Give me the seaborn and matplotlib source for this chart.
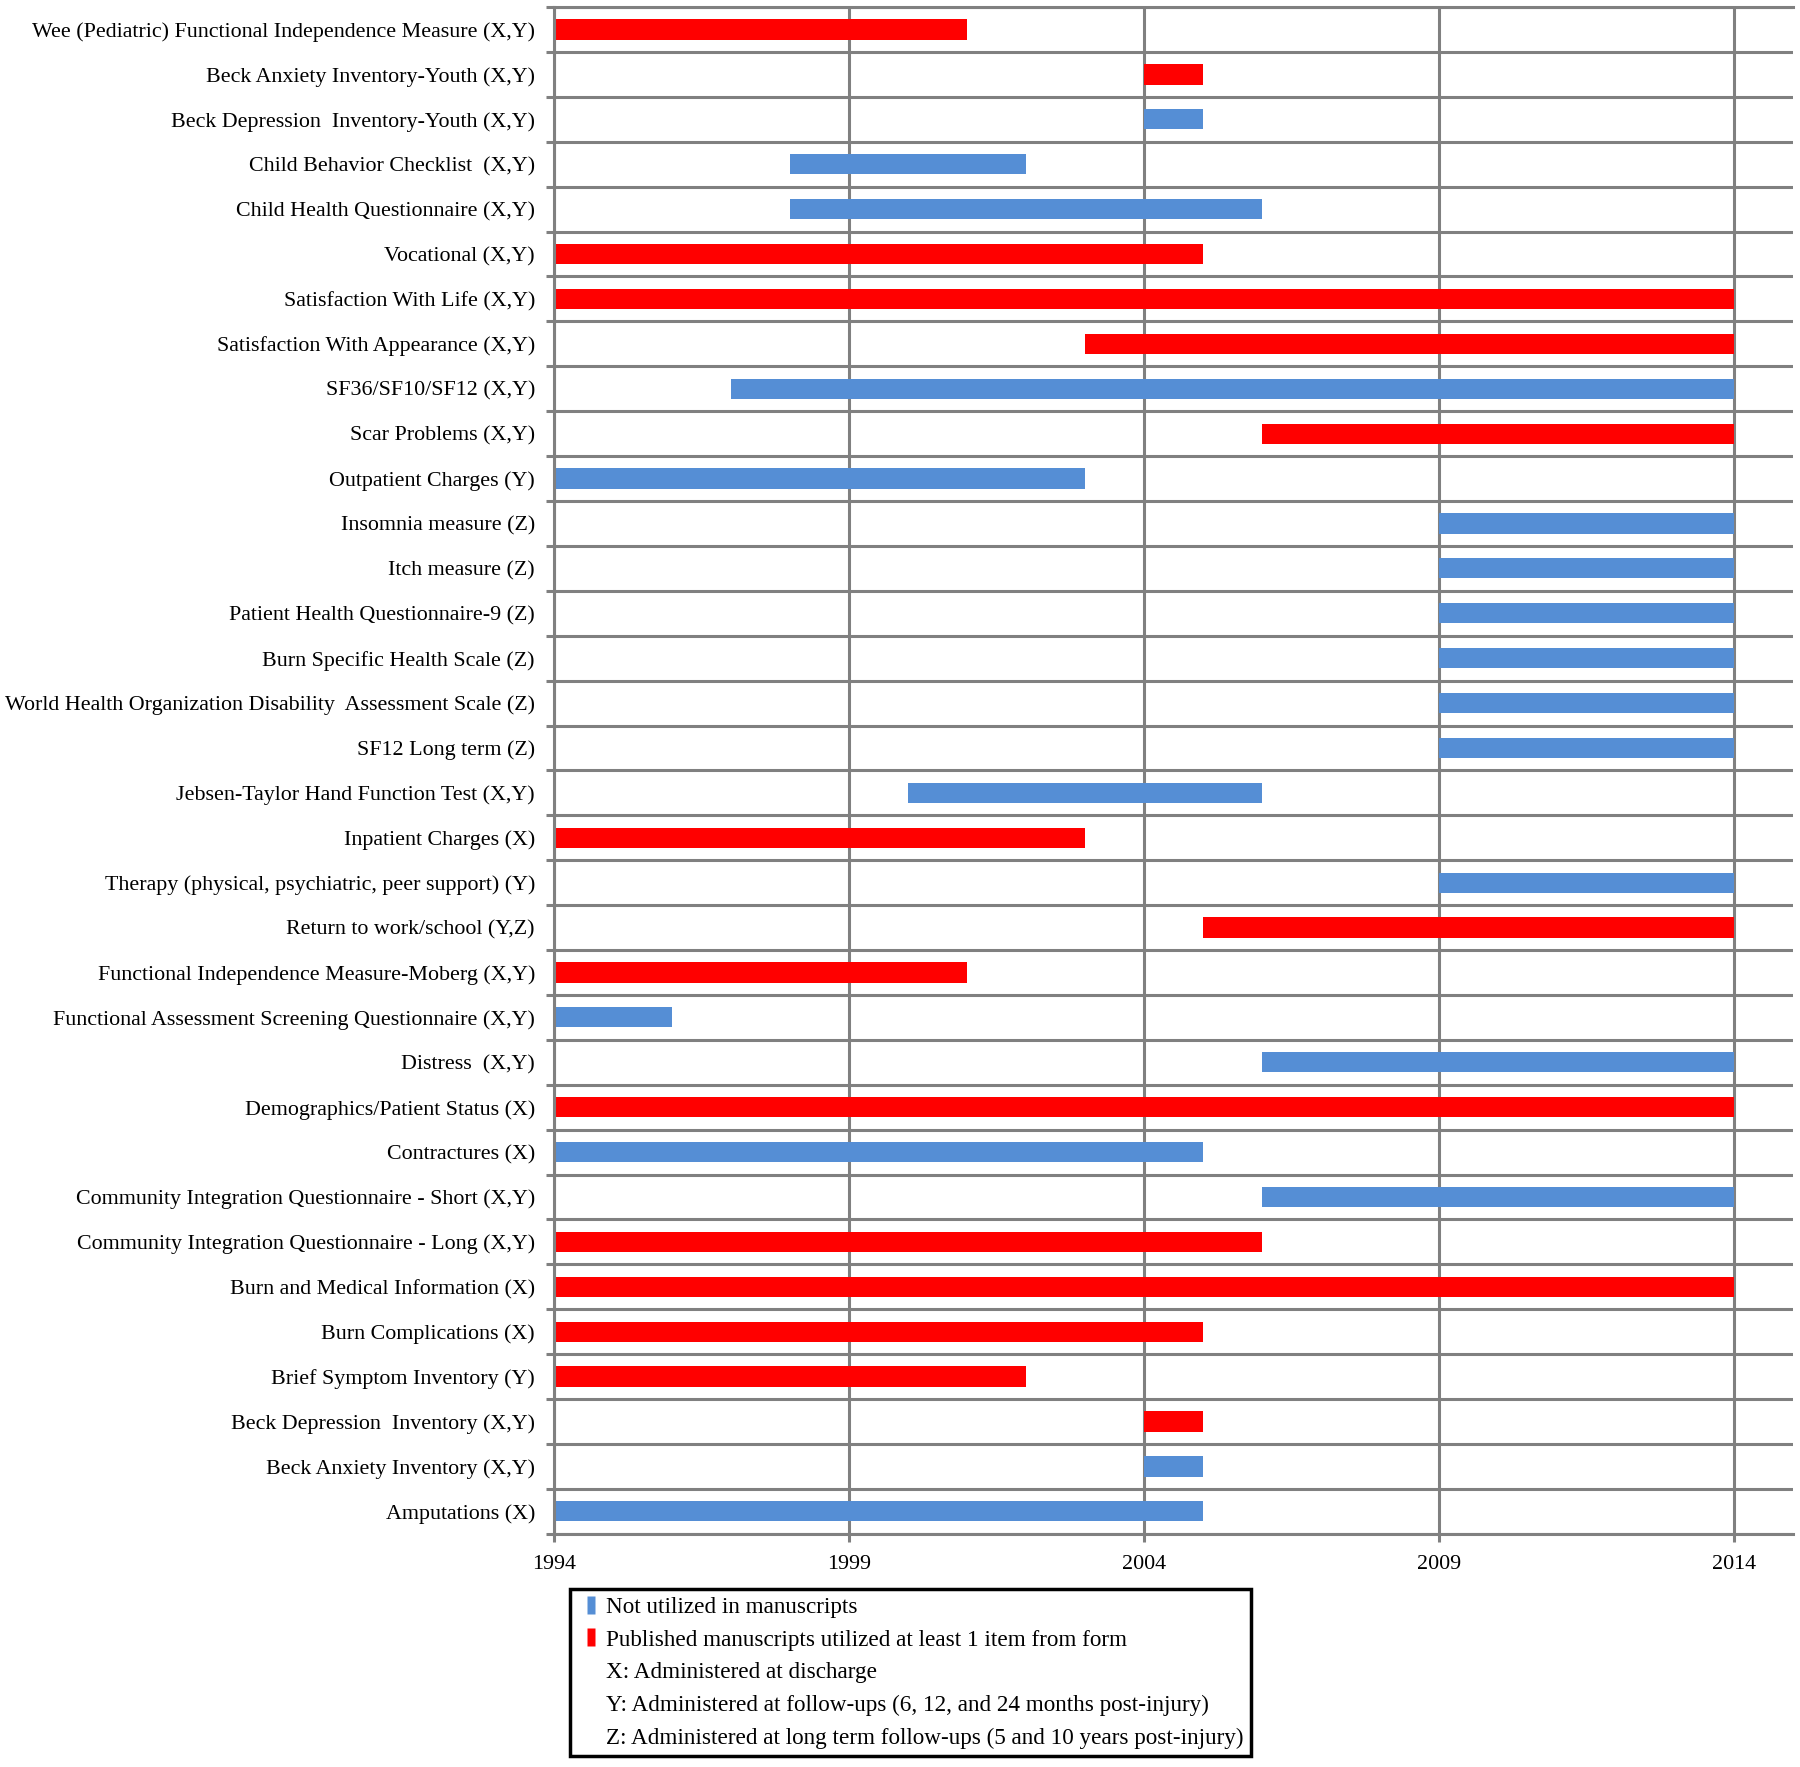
import numpy as np
import pandas as pd
import matplotlib
matplotlib.use("Agg")
import matplotlib.pyplot as plt
import seaborn as sns
from matplotlib.lines import Line2D

# ---------------- data ----------------
measures = [
    "Wee (Pediatric) Functional Independence Measure (X,Y)",
    "Beck Anxiety Inventory-Youth (X,Y)",
    "Beck Depression  Inventory-Youth (X,Y)",
    "Child Behavior Checklist  (X,Y)",
    "Child Health Questionnaire (X,Y)",
    "Vocational (X,Y)",
    "Satisfaction With Life (X,Y)",
    "Satisfaction With Appearance (X,Y)",
    "SF36/SF10/SF12 (X,Y)",
    "Scar Problems (X,Y)",
    "Outpatient Charges (Y)",
    "Insomnia measure (Z)",
    "Itch measure (Z)",
    "Patient Health Questionnaire-9 (Z)",
    "Burn Specific Health Scale (Z)",
    "World Health Organization Disability  Assessment Scale (Z)",
    "SF12 Long term (Z)",
    "Jebsen-Taylor Hand Function Test (X,Y)",
    "Inpatient Charges (X)",
    "Therapy (physical, psychiatric, peer support) (Y)",
    "Return to work/school (Y,Z)",
    "Functional Independence Measure-Moberg (X,Y)",
    "Functional Assessment Screening Questionnaire (X,Y)",
    "Distress  (X,Y)",
    "Demographics/Patient Status (X)",
    "Contractures (X)",
    "Community Integration Questionnaire - Short (X,Y)",
    "Community Integration Questionnaire - Long (X,Y)",
    "Burn and Medical Information (X)",
    "Burn Complications (X)",
    "Brief Symptom Inventory (Y)",
    "Beck Depression  Inventory (X,Y)",
    "Beck Anxiety Inventory (X,Y)",
    "Amputations (X)",
]
start_year = [1994, 2004, 2004, 1998, 1998, 1994, 1994, 2003, 1997, 2006,
              1994, 2009, 2009, 2009, 2009, 2009, 2009, 2000, 1994, 2009,
              2005, 1994, 1994, 2006, 1994, 1994, 2006, 1994, 1994, 1994,
              1994, 2004, 2004, 1994]
end_year = [2001, 2005, 2005, 2002, 2006, 2005, 2014, 2014, 2014, 2014,
            2003, 2014, 2014, 2014, 2014, 2014, 2014, 2006, 2003, 2014,
            2014, 2001, 1996, 2014, 2014, 2005, 2014, 2006, 2014, 2005,
            2002, 2005, 2005, 2005]
status = ["P", "P", "N", "N", "N", "P", "P", "P", "N", "P",
          "N", "N", "N", "N", "N", "N", "N", "N", "P", "N",
          "P", "P", "N", "N", "P", "N", "N", "P", "P", "P",
          "P", "P", "N", "N"]

x_ticks = [1994, 1999, 2004, 2009, 2014]
legend_labels = [
    "Not utilized in manuscripts",
    "Published manuscripts utilized at least 1 item from form",
    "X: Administered at discharge",
    "Y: Administered at follow-ups (6, 12, and 24 months post-injury)",
    "Z: Administered at long term follow-ups (5 and 10 years post-injury)",
]

BLUE = "#558ED5"
RED = "#FF0000"
GRID = "#808080"
colors = {"N": BLUE, "P": RED}

# ---------------- style ----------------
sns.set_theme(style="white", rc={
    "text.color": "black", "xtick.color": "black", "ytick.color": "black",
    "axes.labelcolor": "black",
})
plt.rcParams["font.family"] = ["Liberation Serif", "DejaVu Serif"]

df = pd.DataFrame({"measure": measures, "start": start_year,
                   "end": end_year, "status": status})
df["span"] = df["end"] - df["start"]

fig = plt.figure(figsize=(18, 17.67), dpi=100)
ax = fig.add_axes([0.308, 0.132, 0.688, 0.864])

for st, col in colors.items():
    sub = df[df["status"] == st]
    sns.barplot(data=sub, x="span", y="measure", order=measures, orient="h",
                color=col, saturation=1, width=0.45, errorbar=None,
                left=sub["start"].to_numpy(), linewidth=0, ax=ax)

n = len(measures)
ax.set_xlim(1994, 2015)
ax.set_ylim(n - 0.5, -0.5)
ax.set_xlabel("")
ax.set_ylabel("")
ax.set_xticks(x_ticks)
ax.set_xticklabels([str(t) for t in x_ticks])
ax.set_yticks(np.arange(-0.5, n, 1), minor=True)

ax.set_axisbelow(True)
ax.xaxis.grid(True, which="major", color=GRID, lw=2.2)
ax.yaxis.grid(True, which="minor", color=GRID, lw=2.2)
ax.yaxis.grid(False, which="major")

ax.tick_params(axis="y", which="major", length=0, pad=14, labelsize=15.8)
ax.tick_params(axis="y", which="minor", length=6, width=2.2, color=GRID,
               direction="out", left=True)
ax.tick_params(axis="x", which="major", length=6, width=2.2, color=GRID,
               direction="out", pad=9, labelsize=15.8, bottom=True)

for side in ["left", "top", "bottom"]:
    ax.spines[side].set_visible(True)
    ax.spines[side].set_color(GRID)
    ax.spines[side].set_linewidth(2.2)
ax.spines["right"].set_visible(False)

# narrow upright rectangle marker for the legend keys
rect = [(-0.22, -0.5), (0.22, -0.5), (0.22, 0.5), (-0.22, 0.5), (-0.22, -0.5)]
def key(c):
    return Line2D([], [], ls="none", marker=rect, markersize=13,
                  markerfacecolor=c, markeredgecolor="none")

handles = [key(BLUE), key(RED), key("none"), key("none"), key("none")]
leg = fig.legend(handles, legend_labels, loc="upper left",
                 bbox_to_anchor=(0.3167, 0.1007), frameon=True, fancybox=False,
                 edgecolor="black", framealpha=1, fontsize=16.7, numpoints=1,
                 handlelength=1.2, handletextpad=0.05,
                 labelspacing=0.5, borderpad=0.32, borderaxespad=0)
leg.get_frame().set_linewidth(2.5)

fig.savefig("out.png", dpi=100)
